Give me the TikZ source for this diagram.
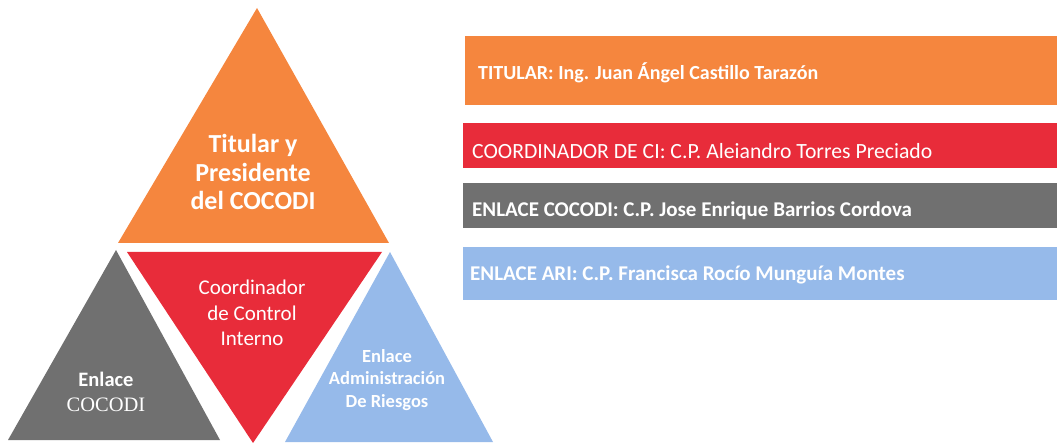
\documentclass[tikz,border=0pt]{standalone}
\usepackage{fontspec}
\setmainfont{Carlito}
\newfontfamily\serifcocodi{Liberation Serif}
\definecolor{naranja}{RGB}{245,134,62}
\definecolor{rojo}{RGB}{232,44,58}
\definecolor{gris}{RGB}{112,112,112}
\definecolor{azul}{RGB}{150,186,234}
\begin{document}
\begin{tikzpicture}[x=1pt,y=-1pt,
  rotulo/.style={text=white,align=center,inner sep=0pt},
  barrotulo/.style={text=white,anchor=west,inner sep=0pt,font=\bfseries\fontsize{21}{24}\selectfont}]
\useasboundingbox (0,0) rectangle (1057,443);

\fill[naranja] (257,8) -- (389,243) -- (118,243) -- cycle;
\fill[rojo] (127,252) -- (382,252) -- (253,443) -- cycle;
\fill[gris] (116,250) -- (220,440) -- (8,440) -- cycle;
\fill[azul] (390,252) -- (493,442) -- (285,442) -- cycle;

\node[rotulo,font=\bfseries\fontsize{26}{28.5}\selectfont] (titular) at (253,172) {Titular y\\Presidente\\del COCODI};
\node[rotulo,font=\fontsize{21}{25.5}\selectfont] (coordinador) at (252,313) {Coordinador\\de Control\\Interno};
\node[rotulo,font=\fontsize{20.5}{25}\selectfont] (enlacecocodi) at (106,392) {\textbf{Enlace}\\{\serifcocodi COCODI}};
\node[rotulo,font=\bfseries\fontsize{18.5}{22.5}\selectfont] (enlaceari) at (387,380) {Enlace\\Administración\\De Riesgos};

\fill[naranja] (465,36) rectangle (1057,105);
\fill[rojo] (463,123) rectangle (1057,168);
\fill[gris] (463,183) rectangle (1057,228);
\fill[azul] (463,247) rectangle (1057,300);

\node[barrotulo,font=\bfseries\fontsize{20}{24}\selectfont] (bartitular) at (478,73) {TITULAR: Ing. Juan Ángel Castillo Tarazón};
\node[barrotulo,font=\fontsize{21.7}{24}\selectfont] (barcoordinador) at (472,151) {COORDINADOR DE CI: C.P. Aleiandro Torres Preciado};
\node[barrotulo] (barcocodi) at (472,211) {ENLACE COCODI: C.P. Jose Enrique Barrios Cordova};
\node[barrotulo] (barari) at (470,275) {ENLACE ARI: C.P. Francisca Rocío Munguía Montes};
\end{tikzpicture}
\end{document}
